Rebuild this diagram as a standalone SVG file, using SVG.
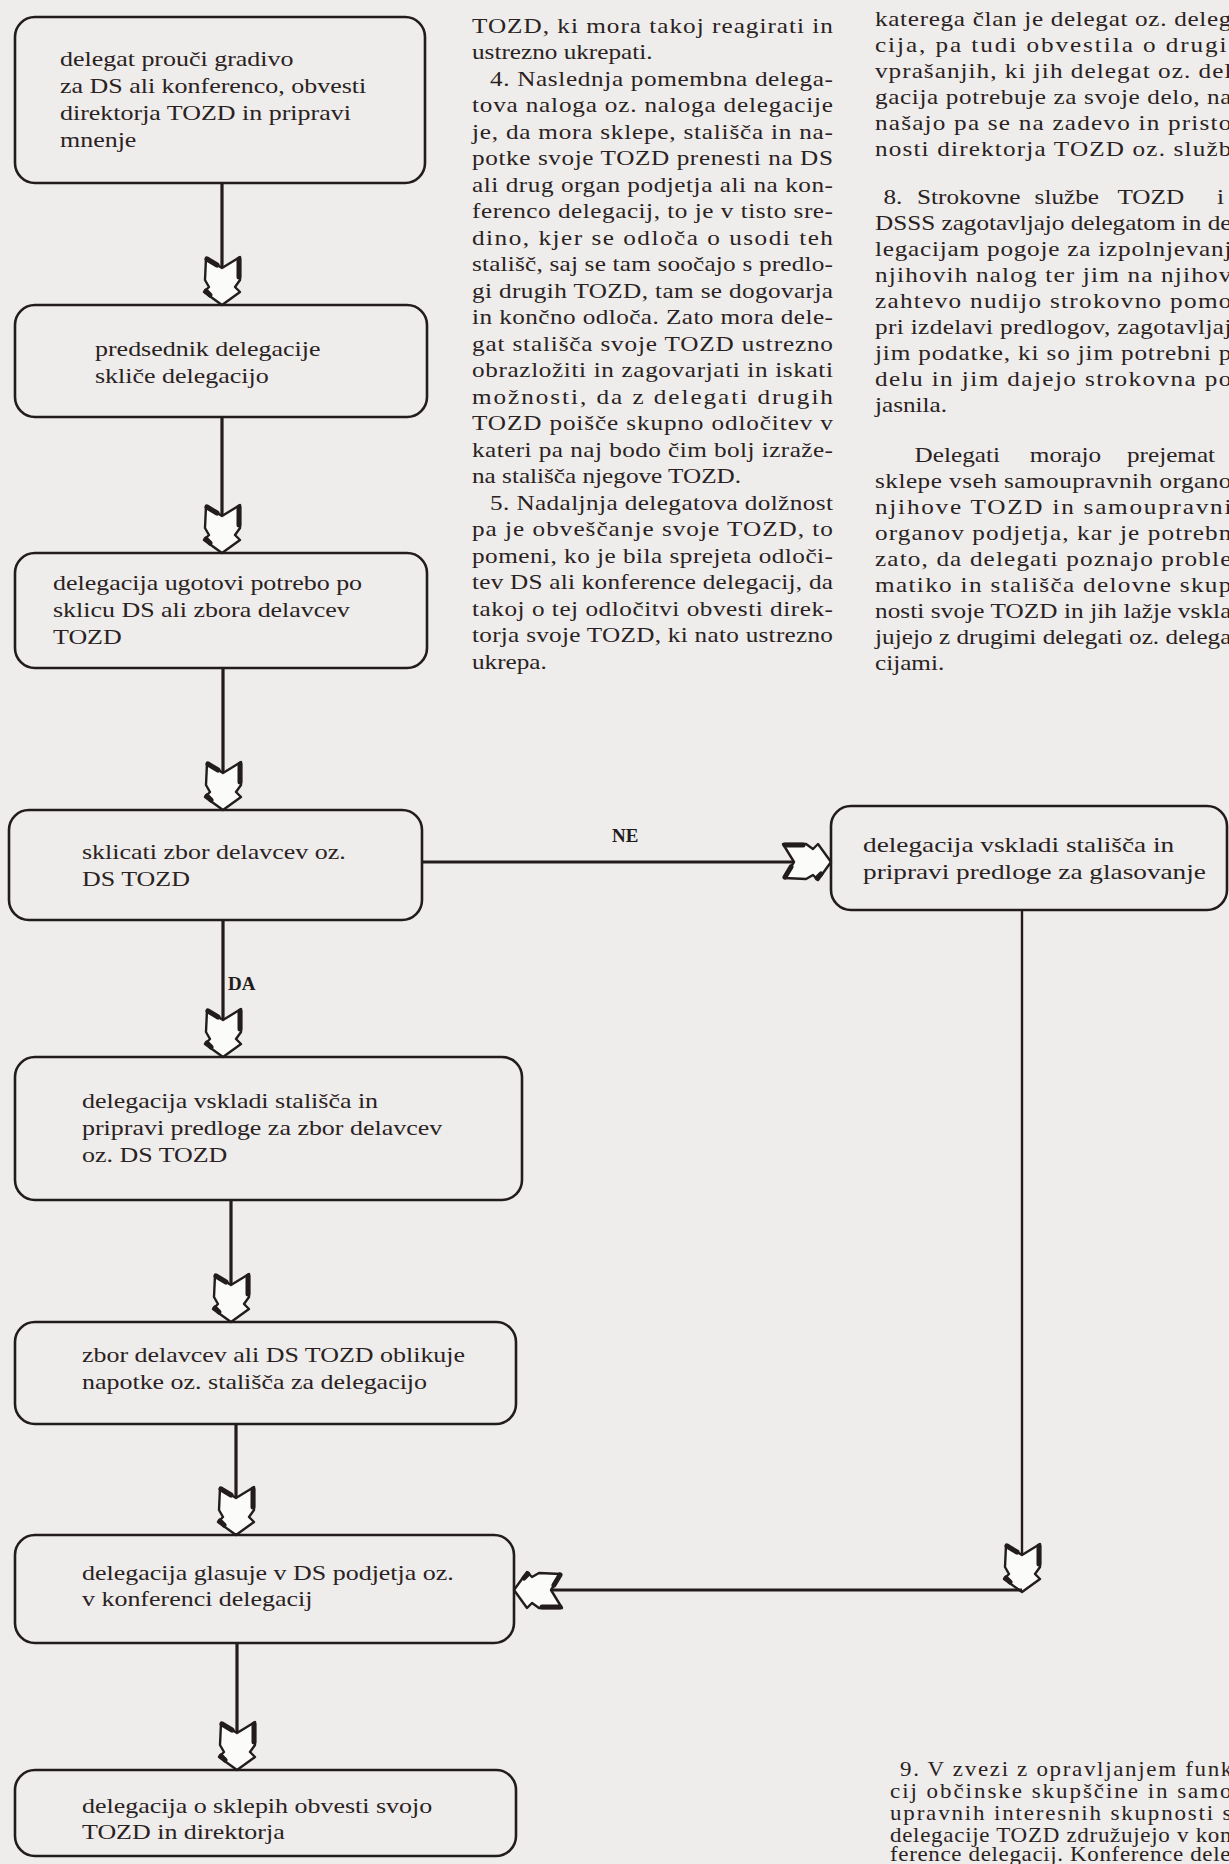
<svg xmlns="http://www.w3.org/2000/svg" xmlns:xlink="http://www.w3.org/1999/xlink" width="1229" height="1864" viewBox="0 0 1229 1864">
<style>
.bg{fill:#eeedeb}
.box{fill:none;stroke:#231c1c;stroke-width:2.6}
.nt{font-family:"Liberation Serif","Times New Roman",serif;font-size:22px;fill:#2a2222}
.bt{font-family:"Liberation Serif","Times New Roman",serif;font-size:21px;fill:#2a2222}
.bt2{font-family:"Liberation Serif","Times New Roman",serif;font-size:20px;fill:#2a2222}
.lbl{font-family:"Liberation Serif","Times New Roman",serif;font-size:19px;font-weight:bold;fill:#231c1c}
.conn{stroke:#231c1c;stroke-width:3.2;fill:none}
.thin{stroke:#231c1c;stroke-width:2.4;fill:none}
.ahb{fill:#fbfbfa;stroke:#231c1c;stroke-width:2.4;stroke-linejoin:round}
.ahs{fill:none;stroke:#231c1c;stroke-width:5;stroke-linecap:round}
</style>
<defs>
<g id="ah">
<path class="ahb" d="M -16,-47 L 0,-37 L 18,-48 L 18,-25 L 13,-18 L 18,-13 L 0,0 L -18,-13 L -13,-18 L -17,-25 Z"/>
<path class="ahs" d="M -15,-46 L -5,-40 M 17,-46 L 17,-28 M -16,-14 L -12,-10"/>
</g>
</defs>
<rect class="bg" x="0" y="0" width="1229" height="1864"/>

<g id="body-middle" transform="translate(472 0) scale(1.2 1)">
<text class="bt" x="0" y="33" textLength="300.8" lengthAdjust="spacing">TOZD, ki mora takoj reagirati in</text>
<text class="bt" x="0" y="59.5">ustrezno ukrepati.</text>
<text class="bt" x="15" y="86" textLength="285.8" lengthAdjust="spacing">4. Naslednja pomembna delega-</text>
<text class="bt" x="0" y="112.5" textLength="300.8" lengthAdjust="spacing">tova naloga oz. naloga delegacije</text>
<text class="bt" x="0" y="139" textLength="300.8" lengthAdjust="spacing">je, da mora sklepe, stališča in na-</text>
<text class="bt" x="0" y="165.5" textLength="300.8" lengthAdjust="spacing">potke svoje TOZD prenesti na DS</text>
<text class="bt" x="0" y="192" textLength="300.8" lengthAdjust="spacing">ali drug organ podjetja ali na kon-</text>
<text class="bt" x="0" y="218.5" textLength="300.8" lengthAdjust="spacing">ferenco delegacij, to je v tisto sre-</text>
<text class="bt" x="0" y="245" textLength="300.8" lengthAdjust="spacing">dino, kjer se odloča o usodi teh</text>
<text class="bt" x="0" y="271.5" textLength="300.8" lengthAdjust="spacing">stališč, saj se tam soočajo s predlo-</text>
<text class="bt" x="0" y="298" textLength="300.8" lengthAdjust="spacing">gi drugih TOZD, tam se dogovarja</text>
<text class="bt" x="0" y="324.5" textLength="300.8" lengthAdjust="spacing">in končno odloča. Zato mora dele-</text>
<text class="bt" x="0" y="351" textLength="300.8" lengthAdjust="spacing">gat stališča svoje TOZD ustrezno</text>
<text class="bt" x="0" y="377.5" textLength="300.8" lengthAdjust="spacing">obrazložiti in zagovarjati in iskati</text>
<text class="bt" x="0" y="404" textLength="300.8" lengthAdjust="spacing">možnosti, da z delegati drugih</text>
<text class="bt" x="0" y="430.5" textLength="300.8" lengthAdjust="spacing">TOZD poišče skupno odločitev v</text>
<text class="bt" x="0" y="457" textLength="300.8" lengthAdjust="spacing">kateri pa naj bodo čim bolj izraže-</text>
<text class="bt" x="0" y="483.5">na stališča njegove TOZD.</text>
<text class="bt" x="15" y="510" textLength="285.8" lengthAdjust="spacing">5. Nadaljnja delegatova dolžnost</text>
<text class="bt" x="0" y="536.5" textLength="300.8" lengthAdjust="spacing">pa je obveščanje svoje TOZD, to</text>
<text class="bt" x="0" y="563" textLength="300.8" lengthAdjust="spacing">pomeni, ko je bila sprejeta odloči-</text>
<text class="bt" x="0" y="589.5" textLength="300.8" lengthAdjust="spacing">tev DS ali konference delegacij, da</text>
<text class="bt" x="0" y="616" textLength="300.8" lengthAdjust="spacing">takoj o tej odločitvi obvesti direk-</text>
<text class="bt" x="0" y="642.5" textLength="300.8" lengthAdjust="spacing">torja svoje TOZD, ki nato ustrezno</text>
<text class="bt" x="0" y="669">ukrepa.</text>
</g>

<g id="body-right" transform="translate(875 0) scale(1.2 1)">
<text class="bt" x="0" y="26" textLength="297" lengthAdjust="spacing">katerega član je delegat oz. deleg</text>
<text class="bt" x="0" y="52" textLength="293" lengthAdjust="spacing">cija, pa tudi obvestila o drugi</text>
<text class="bt" x="0" y="78" textLength="297" lengthAdjust="spacing">vprašanjih, ki jih delegat oz. del</text>
<text class="bt" x="0" y="104" textLength="297" lengthAdjust="spacing">gacija potrebuje za svoje delo, na</text>
<text class="bt" x="0" y="130" textLength="297" lengthAdjust="spacing">našajo pa se na zadevo in pristo</text>
<text class="bt" x="0" y="156" textLength="297" lengthAdjust="spacing">nosti direktorja TOZD oz. služb</text>
<text class="bt" y="204"><tspan x="7">8.</tspan><tspan x="35">Strokovne</tspan><tspan x="133">službe</tspan><tspan x="202">TOZD</tspan><tspan x="285">i</tspan></text>
<text class="bt" x="0" y="230" textLength="297" lengthAdjust="spacing">DSSS zagotavljajo delegatom in de</text>
<text class="bt" x="0" y="256" textLength="297" lengthAdjust="spacing">legacijam pogoje za izpolnjevanj</text>
<text class="bt" x="0" y="282" textLength="297" lengthAdjust="spacing">njihovih nalog ter jim na njihov</text>
<text class="bt" x="0" y="308" textLength="297" lengthAdjust="spacing">zahtevo nudijo strokovno pomo</text>
<text class="bt" x="0" y="334" textLength="297" lengthAdjust="spacing">pri izdelavi predlogov, zagotavljaj</text>
<text class="bt" x="0" y="360" textLength="297" lengthAdjust="spacing">jim podatke, ki so jim potrebni p</text>
<text class="bt" x="0" y="386" textLength="297" lengthAdjust="spacing">delu in jim dajejo strokovna po</text>
<text class="bt" x="0" y="412">jasnila.</text>
<text class="bt" y="462"><tspan x="33">Delegati</tspan><tspan x="129">morajo</tspan><tspan x="210">prejemat</tspan></text>
<text class="bt" x="0" y="488" textLength="297" lengthAdjust="spacing">sklepe vseh samoupravnih organo</text>
<text class="bt" x="0" y="514" textLength="297" lengthAdjust="spacing">njihove TOZD in samoupravni</text>
<text class="bt" x="0" y="540" textLength="297" lengthAdjust="spacing">organov podjetja, kar je potrebn</text>
<text class="bt" x="0" y="566" textLength="297" lengthAdjust="spacing">zato, da delegati poznajo proble</text>
<text class="bt" x="0" y="592" textLength="297" lengthAdjust="spacing">matiko in stališča delovne skup</text>
<text class="bt" x="0" y="618" textLength="297" lengthAdjust="spacing">nosti svoje TOZD in jih lažje vskla</text>
<text class="bt" x="0" y="644" textLength="297" lengthAdjust="spacing">jujejo z drugimi delegati oz. delega</text>
<text class="bt" x="0" y="670">cijami.</text>
</g>

<g id="body-bottom" transform="translate(890 0) scale(1.15 1)">
<text class="bt2" x="8.7" y="1776" textLength="289" lengthAdjust="spacing">9. V zvezi z opravljanjem funk</text>
<text class="bt2" x="0" y="1798" textLength="297" lengthAdjust="spacing">cij občinske skupščine in samo</text>
<text class="bt2" x="0" y="1820" textLength="297" lengthAdjust="spacing">upravnih interesnih skupnosti s</text>
<text class="bt2" x="0" y="1842" textLength="297" lengthAdjust="spacing">delegacije TOZD združujejo v kon</text>
<text class="bt2" x="0" y="1861" textLength="296" lengthAdjust="spacing">ference delegacij. Konference dele</text>
</g>

<g id="connectors">
<line class="conn" x1="222" y1="183" x2="222" y2="268"/>
<use xlink:href="#ah" href="#ah" transform="translate(222 305)"/>
<line class="conn" x1="222" y1="417" x2="222" y2="516"/>
<use xlink:href="#ah" href="#ah" transform="translate(222 553)"/>
<line class="conn" x1="223" y1="668" x2="223" y2="773"/>
<use xlink:href="#ah" href="#ah" transform="translate(223 810)"/>
<line class="conn" x1="223" y1="920" x2="223" y2="1020"/>
<use xlink:href="#ah" href="#ah" transform="translate(223 1057)"/>
<text class="lbl" x="228" y="990">DA</text>
<line class="conn" x1="422" y1="862" x2="794" y2="862"/>
<use xlink:href="#ah" href="#ah" transform="translate(831 862) rotate(-90)"/>
<text class="lbl" x="612" y="842">NE</text>
<line class="conn" x1="231" y1="1200" x2="231" y2="1285"/>
<use xlink:href="#ah" href="#ah" transform="translate(231 1322)"/>
<line class="conn" x1="236" y1="1424" x2="236" y2="1498"/>
<use xlink:href="#ah" href="#ah" transform="translate(236 1535)"/>
<line class="conn" x1="237" y1="1643" x2="237" y2="1733"/>
<use xlink:href="#ah" href="#ah" transform="translate(237 1770)"/>
<line class="thin" x1="1022" y1="910" x2="1022" y2="1556"/>
<use xlink:href="#ah" href="#ah" transform="translate(1022 1592)"/>
<line class="conn" x1="1022" y1="1590" x2="551" y2="1590"/>
<use xlink:href="#ah" href="#ah" transform="translate(514 1590) rotate(90)"/>
</g>

<g id="n1">
<rect class="box" x="15" y="17" width="410" height="166" rx="20"/>
<text class="nt" transform="translate(60 0) scale(1.18 1)"><tspan x="0" y="66">delegat prouči gradivo</tspan><tspan x="0" y="93">za DS ali konferenco, obvesti</tspan><tspan x="0" y="120">direktorja TOZD in pripravi</tspan><tspan x="0" y="147">mnenje</tspan></text>
</g>
<g id="n2">
<rect class="box" x="15" y="305" width="412" height="112" rx="20"/>
<text class="nt" transform="translate(95 0) scale(1.18 1)"><tspan x="0" y="356">predsednik delegacije</tspan><tspan x="0" y="383">skliče delegacijo</tspan></text>
</g>
<g id="n3">
<rect class="box" x="15" y="553" width="412" height="115" rx="20"/>
<text class="nt" transform="translate(53 0) scale(1.18 1)"><tspan x="0" y="590">delegacija ugotovi potrebo po</tspan><tspan x="0" y="617">sklicu DS ali zbora delavcev</tspan><tspan x="0" y="644">TOZD</tspan></text>
</g>
<g id="n4">
<rect class="box" x="9" y="810" width="413" height="110" rx="20"/>
<text class="nt" transform="translate(82 0) scale(1.18 1)"><tspan x="0" y="859">sklicati zbor delavcev oz.</tspan><tspan x="0" y="886">DS TOZD</tspan></text>
</g>
<g id="n5">
<rect class="box" x="831" y="806" width="396" height="104" rx="20"/>
<text class="nt" transform="translate(863 0) scale(1.24 1)"><tspan x="0" y="852">delegacija vskladi stališča in</tspan><tspan x="0" y="879">pripravi predloge za glasovanje</tspan></text>
</g>
<g id="n6">
<rect class="box" x="15" y="1057" width="507" height="143" rx="20"/>
<text class="nt" transform="translate(82 0) scale(1.18 1)"><tspan x="0" y="1108">delegacija vskladi stališča in</tspan><tspan x="0" y="1135">pripravi predloge za zbor delavcev</tspan><tspan x="0" y="1162">oz. DS TOZD</tspan></text>
</g>
<g id="n7">
<rect class="box" x="15" y="1322" width="501" height="102" rx="20"/>
<text class="nt" transform="translate(82 0) scale(1.18 1)"><tspan x="0" y="1362">zbor delavcev ali DS TOZD oblikuje</tspan><tspan x="0" y="1389">napotke oz. stališča za delegacijo</tspan></text>
</g>
<g id="n8">
<rect class="box" x="15" y="1535" width="499" height="108" rx="20"/>
<text class="nt" transform="translate(82 0) scale(1.18 1)"><tspan x="0" y="1580">delegacija glasuje v DS podjetja oz.</tspan><tspan x="0" y="1606">v konferenci delegacij</tspan></text>
</g>
<g id="n9">
<rect class="box" x="15" y="1770" width="501" height="86" rx="20"/>
<text class="nt" transform="translate(82 0) scale(1.18 1)"><tspan x="0" y="1813">delegacija o sklepih obvesti svojo</tspan><tspan x="0" y="1839">TOZD in direktorja</tspan></text>
</g>
</svg>
